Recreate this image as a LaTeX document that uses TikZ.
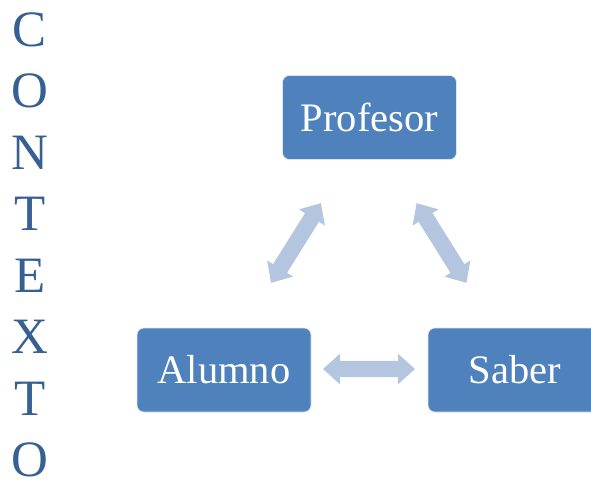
\documentclass[tikz,border=0pt]{standalone}
\usepackage{fontspec}
\setmainfont{Liberation Serif}
\usetikzlibrary{shapes.arrows}
\definecolor{boxblue}{HTML}{4F81BD}
\definecolor{arrowblue}{HTML}{B4C5E0}
\definecolor{titleblue}{HTML}{376092}
\begin{document}
\begin{tikzpicture}[x=1pt,y=-1pt,
  concept/.style={rectangle, rounded corners=7pt, fill=boxblue, draw=white!80!boxblue,
    line width=0.6pt, minimum width=174pt, minimum height=84pt, inner sep=0pt,
    text=white, font=\fontsize{40.5}{48}\selectfont},
  link/.style={double arrow, fill=arrowblue, draw=none, inner xsep=0pt, inner ysep=8pt,
    double arrow head extend=7pt, double arrow tip angle=84},
  letter/.style={anchor=base, text=titleblue, font=\fontsize{51}{61}\selectfont, inner sep=0pt}]
  \useasboundingbox (0,0) rectangle (591,479);

  % vertical title
  \foreach \ch [count=\i from 0] in {C,O,N,T,E,X,T,O}
    \node[letter] (l\i) at (30,{46+61.5*\i}) {\ch};

  % the three concepts of the triangle
  \begin{scope}
    \clip (0,0) rectangle (591,479);
    \node[concept] (profesor) at (369.5,117.5) {Profesor};
    \node[concept] (alumno) at (224,370) {Alumno};
    \node[concept] (saber) at (515,370) {Saber};
  \end{scope}

  % two-way relations
  \node[link, minimum height=92pt] (ab) at (369,369) {};
  \node[link, minimum height=94pt, rotate=58] (ap) at (296,243) {};
  \node[link, minimum height=94pt, rotate=-58] (ps) at (441.5,243) {};
\end{tikzpicture}
\end{document}
